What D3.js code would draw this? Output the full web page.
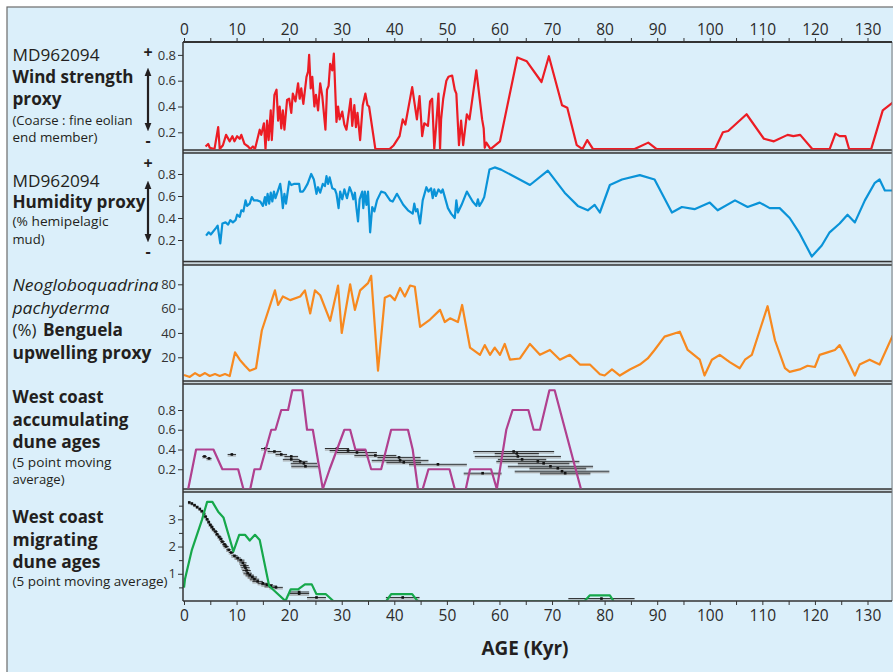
<!DOCTYPE html>
<html>
<head>
<meta charset="utf-8">
<script src="https://cdn.jsdelivr.net/npm/d3@7"></script>
<style>
  body { margin: 0; background: #fff; }
  svg { display: block; font-family: "Open Sans", "Noto Sans", sans-serif; }
</style>
</head>
<body>
<div id="chart"></div>
<script>
// ages in kyr
var windData = [[4.1,0.09],[4.6,0.11],[4.9,0.08],[5.8,0.07],[6.5,0.24],[6.8,0.07],[7.4,0.1],[8.0,0.18],[8.7,0.13],[9.2,0.17],[9.6,0.13],[10.1,0.17],[10.6,0.15],[10.9,0.18],[11.5,0.11],[12.2,0.09],[12.6,0.07],[13.1,0.09],[13.5,0.07],[14.4,0.22],[14.7,0.18],[15.2,0.27],[15.5,0.07],[15.8,0.29],[16.1,0.14],[16.5,0.37],[16.7,0.14],[17.2,0.49],[17.6,0.53],[17.9,0.29],[18.2,0.40],[18.5,0.23],[18.8,0.37],[19.1,0.22],[19.6,0.45],[20.0,0.46],[20.4,0.35],[20.7,0.50],[21.2,0.44],[21.7,0.58],[22.0,0.46],[22.3,0.54],[22.7,0.42],[23.3,0.63],[23.6,0.67],[23.8,0.80],[24.1,0.54],[24.4,0.63],[24.8,0.40],[25.1,0.49],[25.5,0.37],[25.9,0.58],[26.3,0.48],[26.9,0.22],[27.2,0.53],[27.5,0.56],[27.8,0.73],[28.2,0.68],[28.5,0.81],[29.0,0.28],[29.3,0.40],[29.6,0.30],[30.1,0.36],[30.5,0.26],[30.9,0.22],[31.7,0.46],[32.0,0.25],[32.4,0.41],[32.7,0.24],[33.0,0.35],[33.5,0.14],[34.0,0.41],[34.5,0.50],[34.9,0.41],[35.2,0.40],[36.4,0.07],[39.1,0.07],[39.9,0.1],[41.0,0.17],[41.6,0.30],[42.1,0.26],[43.4,0.55],[44.3,0.30],[44.8,0.48],[45.3,0.17],[45.7,0.27],[46.4,0.25],[46.8,0.44],[47.2,0.46],[47.6,0.07],[47.9,0.22],[48.4,0.50],[48.7,0.07],[48.9,0.30],[49.3,0.46],[49.9,0.60],[50.3,0.63],[51.0,0.64],[51.5,0.53],[51.8,0.50],[52.3,0.10],[52.7,0.29],[53.1,0.10],[53.8,0.34],[54.3,0.30],[55.6,0.68],[56.7,0.30],[57.0,0.23],[57.2,0.08],[57.5,0.12],[58.3,0.07],[60.1,0.13],[63.4,0.78],[65.2,0.75],[68.0,0.59],[69.4,0.79],[71.9,0.41],[72.9,0.39],[74.7,0.10],[75.8,0.07],[76.7,0.14],[77.8,0.07],[85.7,0.07],[88.3,0.12],[89.9,0.07],[101,0.07],[102.5,0.20],[103.5,0.21],[107.0,0.34],[110.3,0.15],[112.2,0.13],[114.8,0.18],[115.9,0.17],[117.2,0.18],[119.5,0.07],[122.8,0.07],[123.9,0.19],[124.7,0.17],[125.8,0.17],[126.5,0.07],[130.7,0.07],[132.9,0.37],[134.8,0.43]];

var humidityData = [[4.2,0.24],[4.7,0.27],[5.1,0.25],[6.1,0.31],[6.4,0.33],[6.9,0.17],[7.3,0.35],[7.9,0.36],[8.4,0.34],[8.8,0.38],[9.3,0.36],[9.8,0.38],[10.1,0.43],[10.6,0.41],[10.9,0.47],[11.3,0.46],[11.7,0.56],[12.0,0.51],[12.5,0.53],[12.9,0.59],[13.3,0.56],[13.9,0.56],[14.5,0.55],[15.0,0.51],[15.4,0.59],[15.6,0.52],[15.9,0.62],[16.2,0.53],[16.5,0.63],[16.8,0.55],[17.1,0.64],[17.4,0.58],[18.1,0.68],[18.3,0.71],[18.5,0.64],[18.8,0.49],[19.1,0.62],[19.4,0.53],[20.0,0.73],[20.4,0.70],[20.9,0.71],[21.9,0.71],[22.1,0.64],[22.6,0.64],[22.9,0.66],[23.5,0.71],[24.2,0.80],[24.7,0.75],[25.2,0.62],[25.5,0.68],[25.9,0.63],[26.4,0.71],[26.8,0.69],[27.1,0.78],[27.4,0.71],[27.7,0.77],[28.2,0.67],[28.7,0.66],[29.0,0.62],[29.4,0.49],[29.7,0.64],[30.1,0.57],[30.5,0.66],[31.0,0.58],[31.5,0.68],[31.9,0.63],[32.2,0.57],[32.5,0.63],[32.8,0.49],[33.1,0.37],[33.4,0.57],[33.9,0.64],[34.1,0.49],[34.4,0.64],[34.7,0.52],[35.0,0.64],[35.4,0.27],[35.8,0.50],[36.2,0.46],[36.7,0.56],[37.5,0.64],[38.2,0.63],[39.2,0.56],[39.7,0.55],[40.5,0.62],[41.7,0.52],[42.6,0.47],[43.5,0.44],[43.8,0.53],[44.1,0.46],[44.4,0.48],[44.9,0.35],[45.4,0.56],[46.1,0.68],[46.5,0.64],[47.0,0.67],[47.3,0.58],[47.6,0.66],[47.9,0.60],[48.4,0.66],[48.9,0.63],[49.2,0.66],[50.2,0.49],[50.8,0.44],[51.5,0.40],[51.8,0.56],[52.1,0.45],[52.8,0.52],[53.8,0.64],[54.9,0.55],[55.6,0.51],[55.9,0.57],[56.2,0.51],[56.7,0.55],[57.1,0.59],[58.1,0.84],[59.1,0.86],[60.3,0.84],[65.8,0.70],[69.2,0.83],[72.4,0.63],[74.9,0.51],[76.8,0.47],[78.1,0.52],[79.1,0.45],[81.0,0.70],[83.3,0.75],[86.7,0.79],[89.5,0.75],[92.8,0.45],[94.7,0.50],[97.1,0.48],[100.0,0.54],[101.5,0.47],[104.8,0.56],[107.2,0.50],[109.5,0.54],[111.4,0.49],[113.3,0.49],[115.2,0.40],[117.1,0.26],[118.3,0.15],[119.4,0.05],[121.3,0.15],[122.8,0.27],[124.7,0.35],[126.2,0.43],[127.6,0.36],[129.5,0.56],[131.4,0.72],[132.3,0.75],[133.3,0.65],[134.8,0.65]];

var pachydermaData = [[0,5.4],[1.1,3.8],[2.1,7],[3.0,4.6],[4.0,7],[4.9,4.6],[5.9,6.2],[6.8,4.6],[7.8,6.2],[8.7,4.6],[9.7,24],[10.6,18],[11.6,13],[12.5,9],[13.7,11],[14.8,42],[17.3,75],[17.9,63],[18.8,70],[20.2,67],[22.1,70],[23.0,75],[24.0,56],[24.9,75],[25.9,71],[27.8,50],[29.3,79],[30.0,40],[31.6,80],[32.5,59],[33.5,75],[35.0,81],[35.6,87],[36.9,9],[38.2,69],[39.2,71],[40.1,67],[41.1,77],[42.0,70],[43.0,79],[43.9,78],[44.9,45],[46.8,51],[48.7,59],[49.6,49],[50.6,52],[52.1,49],[52.9,63],[54.4,28],[56.3,22],[57.2,30],[58.2,22],[59.1,28],[60.1,22],[61.0,31],[62.0,18],[63.9,19],[65.8,31],[67.7,22],[69.6,26],[71.5,18],[73.4,22],[75.3,14],[77.2,14],[79.1,6],[80.0,5],[81.4,10],[82.9,5],[84.8,10],[86.7,14],[88.2,19],[89.5,26],[91.4,37],[94.3,41],[95.8,26],[98.1,18],[99.0,5],[100.4,18],[101.9,22],[103.8,16],[105.7,11],[106.7,18],[108.0,22],[109.5,42],[111.0,62],[112.4,34],[114.3,11],[115.2,8],[117.1,10],[118.6,13],[120.0,12],[120.9,22],[122.4,24],[123.8,26],[124.7,30],[125.7,22],[127.6,5],[128.5,14],[130.4,18],[132.3,14],[134.8,38]];

var accumAvg = [[0.8,0],[2.3,0.4],[5.6,0.4],[7.3,0.2],[10.3,0.2],[11.3,0],[12.6,0],[13.4,0.2],[14.5,0.2],[16.6,0.6],[17.4,0.6],[18.5,0.8],[19.8,0.8],[20.6,1.0],[22.5,1.0],[23.4,0.6],[24.5,0.6],[26.4,0],[27.7,0.2],[30.5,0.6],[31.6,0.6],[32.6,0.4],[34.5,0.4],[35.6,0.2],[37.5,0.2],[39.4,0.6],[42.6,0.6],[43.5,0.4],[44.5,0],[45.4,0],[46.5,0.2],[50.5,0.2],[51.5,0],[53.6,0],[54.4,0.2],[58.4,0.2],[59.5,0],[61.3,0.6],[62.5,0.8],[65.5,0.8],[66.5,0.6],[67.7,0.6],[69.5,1.0],[70.5,1.0],[75.5,0]];

// [age, y position, age error]
var accumAges = [[3.9,0.33,0.45],[4.75,0.31,0.5],[9.1,0.35,0.8],[15.5,0.41,0.85],[17.2,0.38,1.3],[18.5,0.35,1.1],[20.4,0.33,1.3],[20.4,0.30,1.6],[22.1,0.28,1.4],[22.8,0.26,2.5],[23.1,0.23,2.7],[29.1,0.41,2.3],[31.2,0.39,3.5],[32.9,0.37,3.8],[36.4,0.34,4.0],[40.9,0.32,4.1],[41.1,0.29,5.4],[41.8,0.27,3.3],[48.3,0.25,5.5],[56.8,0.16,3.6],[62.7,0.38,7.7],[63.3,0.36,4.2],[63.5,0.33,8.2],[64.3,0.30,4.6],[67.3,0.28,7.9],[68.4,0.26,4.9],[69.7,0.23,8.1],[71.1,0.21,5.4],[71.9,0.18,9.0],[72.5,0.16,4.8]];

var migratingAvg = [[0,0.49],[0.2,0.82],[1.5,1.88],[3.4,2.97],[4.4,3.64],[5.4,3.64],[6.5,3.28],[7.5,3.07],[9.4,1.82],[10.5,2.43],[11.6,2.43],[12.5,2.22],[13.5,2.43],[14.4,2.24],[16.2,0.55],[19.3,0],[20.3,0.43],[21.7,0.43],[23.0,0.61],[24.3,0.61],[25.2,0.25],[27.0,0.25],[28.4,0],[38.5,0],[39.4,0.25],[43.4,0.25],[44.4,0],[76.2,0],[77.2,0.21],[81.0,0.21],[81.7,0]];

var migratingAges = [[1.0,3.62,0.2],[1.5,3.58,0.2],[2.0,3.52,0.25],[2.5,3.45,0.25],[3.0,3.38,0.25],[3.4,3.30,0.3],[3.8,3.20,0.3],[4.1,3.10,0.3],[4.4,3.00,0.3],[4.7,2.90,0.3],[5.0,2.80,0.35],[5.3,2.72,0.35],[5.6,2.63,0.35],[6.0,2.55,0.4],[6.3,2.45,0.4],[6.7,2.36,0.4],[7.0,2.28,0.4],[7.3,2.18,0.45],[7.7,2.08,0.45],[8.0,2.0,0.5],[8.5,1.88,0.5],[9.0,1.78,0.5],[9.6,1.66,0.6],[10.2,1.58,0.6],[10.8,1.50,0.7],[11.2,1.40,0.7],[11.5,1.30,0.8],[11.7,1.22,0.8],[11.9,1.12,0.8],[12.1,1.02,0.8],[12.5,0.95,0.8],[13.0,0.88,0.9],[13.4,0.80,0.9],[14.0,0.72,1.0],[15.0,0.65,1.0],[15.8,0.60,1.1],[16.5,0.55,1.2],[17.5,0.50,1.3],[21.9,0.33,1.9],[21.9,0.27,1.9],[25.2,0.13,1.8],[41.6,0.13,3.2],[79.4,0.09,6.3]];

var ageTicks = [0,10,20,30,40,50,60,70,80,90,100,110,120,130];
var ageMinor = [5,15,25,35,45,55,65,75,85,95,105,115,125];
var windTicks = [0.2,0.4,0.6,0.8];
var humidityTicks = [0.2,0.4,0.6,0.8];
var pachyTicks = [20,40,60,80];
var accumTicks = [0.2,0.4,0.6,0.8];
var migratingTicks = [1,2,3];
var migratingMinor = [0.5,1.5,2.5,3.5];

var svgWidth = 893, svgHeight = 672;
var plotLeft = 183, plotRight = 892, axisTop = 42, axisBottom = 601;

var svg = d3.select("#chart").append("svg")
    .attr("width", svgWidth)
    .attr("height", svgHeight);

// background frame
svg.append("rect").attr("x", 7).attr("y", 7).attr("width", svgWidth).attr("height", svgHeight)
    .attr("fill", "#dbeffa").attr("stroke", "#6b6b6b").attr("stroke-width", 1.2);

var x = d3.scaleLinear().domain([0, 130]).range([184, 867.5]);

var panels = [
    {top: 42, bottom: 150, y: d3.scaleLinear().domain([0, 0.8]).range([158.1, 54.9]), ticks: windTicks, fmt: d3.format(".1f"), data: windData, color: "#ec1c24"},
    {top: 153, bottom: 261.5, y: d3.scaleLinear().domain([0, 0.8]).range([262, 174]), ticks: humidityTicks, fmt: d3.format(".1f"), data: humidityData, color: "#0a93d8"},
    {top: 265, bottom: 381, y: d3.scaleLinear().domain([0, 80]).range([381.6, 284.3]), ticks: pachyTicks, fmt: d3.format("d"), data: pachydermaData, color: "#f7891f"},
    {top: 384, bottom: 489, y: d3.scaleLinear().domain([0, 0.8]).range([489, 410]), ticks: accumTicks, fmt: d3.format(".1f"), data: accumAvg, color: "#b0408f"},
    {top: 492, bottom: 601, y: d3.scaleLinear().domain([0, 3]).range([601, 519.3]), ticks: migratingTicks, fmt: d3.format("d"), data: migratingAvg, color: "#16a84b"}
];

// separators between panels (double lines)
panels.forEach(function(p, i) {
    if (i > 0) {
        var prev = panels[i - 1];
        svg.append("rect").attr("x", plotLeft).attr("y", prev.bottom)
            .attr("width", plotRight - plotLeft).attr("height", p.top - prev.bottom)
            .attr("fill", "#c9d5db");
        svg.append("line").attr("x1", plotLeft).attr("x2", plotRight)
            .attr("y1", prev.bottom).attr("y2", prev.bottom)
            .attr("stroke", "#333").attr("stroke-width", 1.3);
        svg.append("line").attr("x1", plotLeft).attr("x2", plotRight)
            .attr("y1", p.top).attr("y2", p.top)
            .attr("stroke", "#333").attr("stroke-width", 1.3);
    }
});

// clip paths per panel
var defs = svg.append("defs");
panels.forEach(function(p, i) {
    defs.append("clipPath").attr("id", "clip" + i)
        .append("rect").attr("x", plotLeft).attr("y", p.top)
        .attr("width", plotRight - plotLeft).attr("height", p.bottom - p.top - 0.5);
});

var line = function(y) {
    return d3.line().x(function(d) { return x(d[0]); }).y(function(d) { return y(d[1]); });
};

// error bars first so the averages sit above them where they cross
function drawAges(p, idx, ages) {
    var g = svg.append("g").attr("clip-path", "url(#clip" + idx + ")");
    var bars = g.selectAll(".bar").data(ages).enter().append("g");
    bars.append("line")
        .attr("x1", function(d) { return x(d[0] - d[2]); })
        .attr("x2", function(d) { return x(d[0] + d[2]); })
        .attr("y1", function(d) { return p.y(d[1]) + 1.5; })
        .attr("y2", function(d) { return p.y(d[1]) + 1.5; })
        .attr("stroke", "#9a9a9a").attr("stroke-width", 1);
    bars.append("line")
        .attr("x1", function(d) { return x(d[0] - d[2]); })
        .attr("x2", function(d) { return x(d[0] + d[2]); })
        .attr("y1", function(d) { return p.y(d[1]); })
        .attr("y2", function(d) { return p.y(d[1]); })
        .attr("stroke", "#1a1a1a").attr("stroke-width", 0.9);
    bars.append("rect")
        .attr("x", function(d) { return x(d[0]) - 1.3; })
        .attr("y", function(d) { return p.y(d[1]) - 1.3; })
        .attr("width", 2.6).attr("height", 2.6)
        .attr("fill", "#111");
}
drawAges(panels[3], 3, accumAges);
drawAges(panels[4], 4, migratingAges);

// data lines
panels.forEach(function(p, i) {
    svg.append("path")
        .datum(p.data)
        .attr("clip-path", "url(#clip" + i + ")")
        .attr("fill", "none")
        .attr("stroke", p.color)
        .attr("stroke-width", 2.2)
        .attr("stroke-linejoin", "round")
        .attr("d", line(p.y));
});

// left y axes
panels.forEach(function(p, i) {
    var ax = svg.append("g")
        .attr("transform", "translate(" + plotLeft + ",0)")
        .call(d3.axisLeft(p.y).tickValues(p.ticks).tickFormat(p.fmt).tickSize(5).tickPadding(2));
    ax.select(".domain").remove();
    ax.selectAll("line").attr("stroke", "#333");
    ax.selectAll("text").attr("font-size", 13).attr("fill", "#333")
        .attr("font-family", "'Open Sans', sans-serif");
});
var minorY = svg.append("g")
    .attr("transform", "translate(" + plotLeft + ",0)")
    .call(d3.axisLeft(panels[4].y).tickValues(migratingMinor).tickFormat("").tickSize(4));
minorY.select(".domain").remove();
minorY.selectAll("line").attr("stroke", "#333");

// frame lines
svg.append("line").attr("x1", plotLeft).attr("x2", plotLeft).attr("y1", axisTop).attr("y2", axisBottom)
    .attr("stroke", "#333").attr("stroke-width", 1.5);
svg.append("line").attr("x1", plotRight).attr("x2", plotRight).attr("y1", axisTop).attr("y2", axisBottom)
    .attr("stroke", "#777").attr("stroke-width", 1);

// top and bottom age axes
var topAxis = svg.append("g").attr("transform", "translate(0," + axisTop + ")")
    .call(d3.axisTop(x).tickValues(ageTicks.concat(ageMinor)).tickFormat(function(d) {
        return ageTicks.indexOf(d) >= 0 ? d : "";
    }).tickSize(4).tickPadding(3));
topAxis.select(".domain").attr("d", "M" + plotLeft + ",0H" + plotRight).attr("stroke", "#333").attr("stroke-width", 2.2);

var bottomAxis = svg.append("g").attr("transform", "translate(0," + axisBottom + ")")
    .call(d3.axisBottom(x).tickValues(ageTicks.concat(ageMinor)).tickFormat(function(d) {
        return ageTicks.indexOf(d) >= 0 ? d : "";
    }).tickSize(4).tickPadding(5));
bottomAxis.select(".domain").attr("d", "M" + plotLeft + ",0H" + plotRight).attr("stroke", "#333").attr("stroke-width", 1.5);

[topAxis, bottomAxis].forEach(function(a) {
    a.selectAll("line").attr("stroke", "#333");
    a.selectAll("text").attr("font-size", 15.5).attr("fill", "#2b2b2b")
        .attr("font-family", "'Open Sans', sans-serif");
});

svg.append("text").attr("x", 525).attr("y", 655).attr("text-anchor", "middle")
    .attr("font-size", 20).attr("font-weight", "bold").attr("fill", "#231f20")
    .attr("textLength", 87).attr("lengthAdjust", "spacingAndGlyphs")
    .text("AGE (Kyr)");

// panel labels: [text, baseline y, width, size, weight, style]
var labelLines = [
    ["MD962094", 61, 87, 17, "normal", "normal"],
    ["Wind strength", 83, 121, 17, "bold", "normal"],
    ["proxy", 105, 49, 17, "bold", "normal"],
    ["(Coarse : fine eolian", 125, 120, 13, "normal", "normal"],
    ["end member)", 142, 85, 13, "normal", "normal"],
    ["MD962094", 187, 87, 17, "normal", "normal"],
    ["Humidity proxy", 208, 133, 17, "bold", "normal"],
    ["(% hemipelagic", 226, 96, 13, "normal", "normal"],
    ["mud)", 244, 32, 13, "normal", "normal"],
    ["Neogloboquadrina", 291, 146, 17, "normal", "italic"],
    ["pachyderma", 314, 97, 17, "normal", "italic"],
    ["upwelling proxy", 359, 139, 17, "bold", "normal"],
    ["West coast", 403, 91, 17, "bold", "normal"],
    ["accumulating", 426, 116, 17, "bold", "normal"],
    ["dune ages", 448, 88, 17, "bold", "normal"],
    ["(5 point moving", 467, 99, 13, "normal", "normal"],
    ["average)", 484, 52, 13, "normal", "normal"],
    ["West coast", 523, 91, 17, "bold", "normal"],
    ["migrating", 546, 85, 17, "bold", "normal"],
    ["dune ages", 568, 88, 17, "bold", "normal"],
    ["(5 point moving average)", 586, 155, 13, "normal", "normal"]
];
svg.selectAll(".lbl").data(labelLines).enter().append("text")
    .attr("x", 12.5)
    .attr("y", function(d) { return d[1]; })
    .attr("font-size", function(d) { return d[3]; })
    .attr("font-weight", function(d) { return d[4]; })
    .attr("font-style", function(d) { return d[5]; })
    .attr("textLength", function(d) { return d[2]; })
    .attr("lengthAdjust", "spacingAndGlyphs")
    .attr("fill", "#231f20")
    .text(function(d) { return d[0]; });

svg.append("text").attr("x", 12.5).attr("y", 336).attr("font-size", 17).attr("fill", "#231f20")
    .attr("textLength", 24).attr("lengthAdjust", "spacingAndGlyphs").text("(%)");
svg.append("text").attr("x", 43).attr("y", 336).attr("font-size", 17).attr("font-weight", "bold")
    .attr("fill", "#231f20").attr("textLength", 80).attr("lengthAdjust", "spacingAndGlyphs").text("Benguela");

// plus/minus arrows
var arrows = [{plus: 58, top: 65, bottom: 134, minus: 146}, {plus: 169, top: 178, bottom: 245, minus: 257}];
defs.append("marker").attr("id", "head").attr("viewBox", "0 0 10 10").attr("refX", 5).attr("refY", 5)
    .attr("markerWidth", 4).attr("markerHeight", 5).attr("orient", "auto-start-reverse")
    .append("path").attr("d", "M0,1 L10,5 L0,9 Z").attr("fill", "#231f20");
arrows.forEach(function(a) {
    svg.append("text").attr("x", 148).attr("y", a.plus).attr("text-anchor", "middle")
        .attr("font-size", 16).attr("font-weight", "bold").attr("fill", "#231f20").text("+");
    svg.append("line").attr("x1", 148).attr("x2", 148).attr("y1", a.top + 7).attr("y2", a.bottom - 7)
        .attr("stroke", "#231f20").attr("stroke-width", 2.2)
        .attr("marker-start", "url(#head)").attr("marker-end", "url(#head)");
    svg.append("text").attr("x", 148).attr("y", a.minus).attr("text-anchor", "middle")
        .attr("font-size", 16).attr("font-weight", "bold").attr("fill", "#231f20").text("-");
});
</script>
</body>
</html>
